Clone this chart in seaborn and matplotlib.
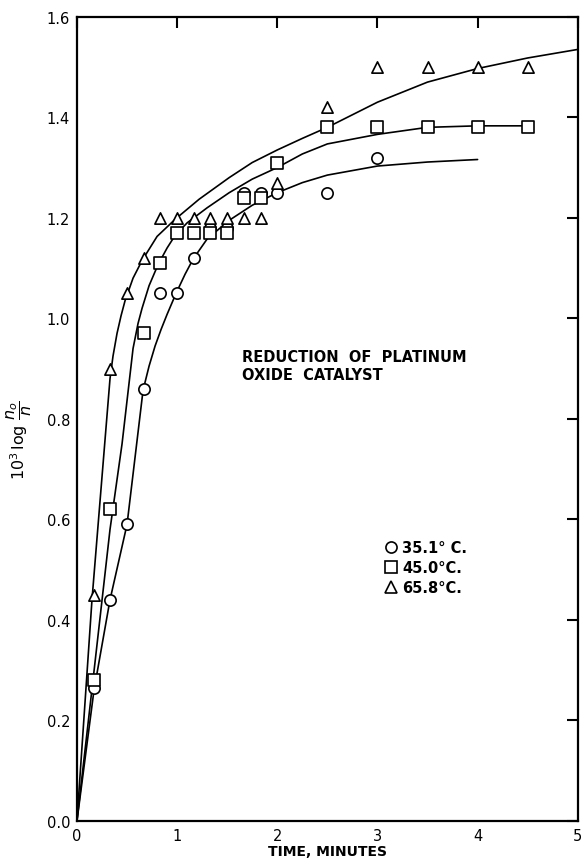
import matplotlib
matplotlib.use("Agg")
import matplotlib.pyplot as plt
from matplotlib.lines import Line2D
import seaborn as sns
import pandas as pd

# ---------------- data ----------------
series_labels = ["35.1° C.", "45.0°C.", "65.8°C."]

# measured points (time in minutes)
t_35 = [0.167, 0.333, 0.5, 0.667, 0.833, 1.0, 1.167, 1.333, 1.5, 1.667, 1.833, 2.0, 2.5, 3.0]
y_35 = [0.265, 0.44, 0.59, 0.86, 1.05, 1.05, 1.12, 1.18, 1.18, 1.25, 1.25, 1.25, 1.25, 1.32]

t_45 = [0.167, 0.333, 0.667, 0.833, 1.0, 1.167, 1.333, 1.5, 1.667, 1.833, 2.0, 2.5, 3.0, 3.5, 4.0, 4.5]
y_45 = [0.28, 0.62, 0.97, 1.11, 1.17, 1.17, 1.17, 1.17, 1.24, 1.24, 1.31, 1.38, 1.38, 1.38, 1.38, 1.38]

t_66 = [0.167, 0.333, 0.5, 0.667, 0.833, 1.0, 1.167, 1.333, 1.5, 1.667, 1.833, 2.0, 2.5, 3.0, 3.5, 4.0, 4.5]
y_66 = [0.45, 0.90, 1.05, 1.12, 1.20, 1.20, 1.20, 1.20, 1.20, 1.20, 1.20, 1.27, 1.42, 1.50, 1.50, 1.50, 1.50]

# smooth drawn curves
ct_35 = [0, 0.17, 0.33, 0.5, 0.66, 0.72, 0.78, 0.84, 0.9, 0.99, 1.08, 1.16, 1.3, 1.52, 1.75, 2.0, 2.25, 2.5, 3.0, 3.5, 4.0]
cy_35 = [0, 0.26, 0.44, 0.59, 0.857, 0.905, 0.945, 0.978, 1.008, 1.05, 1.088, 1.118, 1.158, 1.195, 1.225, 1.25, 1.27, 1.285, 1.303, 1.311, 1.316]

ct_45 = [0, 0.16, 0.33, 0.45, 0.56, 0.61, 0.65, 0.72, 0.81, 0.9, 0.98, 1.1, 1.3, 1.52, 1.75, 2.0, 2.25, 2.5, 3.0, 3.5, 4.0, 4.5]
cy_45 = [0, 0.28, 0.58, 0.75, 0.94, 0.99, 1.02, 1.065, 1.107, 1.14, 1.165, 1.19, 1.22, 1.25, 1.277, 1.30, 1.327, 1.347, 1.366, 1.38, 1.383, 1.383]

ct_66 = [0, 0.15, 0.33, 0.36, 0.4, 0.44, 0.48, 0.56, 0.65, 0.8, 0.98, 1.22, 1.52, 1.75, 2.0, 2.25, 2.5, 2.75, 3.0, 3.5, 4.0, 4.5, 5.0]
cy_66 = [0, 0.44, 0.88, 0.925, 0.97, 1.005, 1.035, 1.08, 1.115, 1.163, 1.197, 1.237, 1.28, 1.31, 1.335, 1.358, 1.38, 1.405, 1.43, 1.47, 1.497, 1.518, 1.535]

x_ticks = [0, 1, 2, 3, 4, 5]
y_ticks = [0.0, 0.2, 0.4, 0.6, 0.8, 1.0, 1.2, 1.4, 1.6]
y_tick_labels = ["0.0", "0.2", "0.4", "0.6", "0.8", "1.0", "1.2", "1.4", "1.6"]

# ---------------- tables ----------------
points = pd.concat([
    pd.DataFrame({"t": t_35, "y": y_35, "s": series_labels[0]}),
    pd.DataFrame({"t": t_45, "y": y_45, "s": series_labels[1]}),
    pd.DataFrame({"t": t_66, "y": y_66, "s": series_labels[2]}),
])
curves = [(ct_35, cy_35), (ct_45, cy_45), (ct_66, cy_66)]
markers = {series_labels[0]: "o", series_labels[1]: "s", series_labels[2]: "^"}

# ---------------- plot ----------------
sns.set_theme(style="white")
plt.rcParams["font.family"] = ["DejaVu Sans"]
plt.rcParams["mathtext.fontset"] = "dejavusans"
plt.rcParams["text.color"] = "black"
plt.rcParams["axes.labelcolor"] = "black"

fig = plt.figure(figsize=(5.83, 8.62), dpi=100)
ax = fig.add_axes([0.132, 0.0464, 0.859, 0.933])

for ct, cy in curves:
    sns.lineplot(x=ct, y=cy, ax=ax, color="black", linewidth=1.2, sort=False,
                 estimator=None, zorder=2)

for lab in series_labels:
    sub = points[points["s"] == lab]
    sns.scatterplot(data=sub, x="t", y="y", ax=ax, marker=markers[lab],
                    s=66, facecolor="white", edgecolor="black", linewidth=1.2,
                    zorder=3, legend=False)

ax.set_xlim(0, 5)
ax.set_ylim(0, 1.6)
ax.set_xticks(x_ticks)
ax.set_xticklabels([str(v) for v in x_ticks])
ax.set_yticks(y_ticks)
ax.set_yticklabels(y_tick_labels)

ax.tick_params(axis="both", direction="in", length=8, width=1.5, color="black",
               labelsize=10.5, labelcolor="black", top=True, right=True)
ax.tick_params(axis="x", pad=5)
ax.tick_params(axis="y", pad=5)
for sp in ax.spines.values():
    sp.set_visible(True)
    sp.set_color("black")
    sp.set_linewidth(1.6)

ax.set_xlabel("TIME, MINUTES", fontsize=10, fontweight="bold", labelpad=1)
ax.set_ylabel(r"$10^3\,\log\,\dfrac{n_o}{n}$", fontsize=11.5)
ax.yaxis.set_label_coords(-0.085, 0.475)

ax.text(1.65, 0.94, "REDUCTION  OF  PLATINUM\nOXIDE  CATALYST", fontsize=10.5,
        fontweight="bold", va="top", ha="left", linespacing=1.3)

handles = [Line2D([], [], linestyle="none", marker=markers[lab], markersize=8,
                  markerfacecolor="white", markeredgecolor="black",
                  markeredgewidth=1.2) for lab in series_labels]
leg = ax.legend(handles, series_labels, loc="upper left", bbox_to_anchor=(0.6, 0.357),
                frameon=False, fontsize=10.5, handletextpad=0.3, labelspacing=0.35,
                handlelength=1.0, borderaxespad=0)
for txt in leg.get_texts():
    txt.set_fontweight("bold")

ax.grid(False)
fig.savefig("out.png", dpi=100, facecolor="white")
